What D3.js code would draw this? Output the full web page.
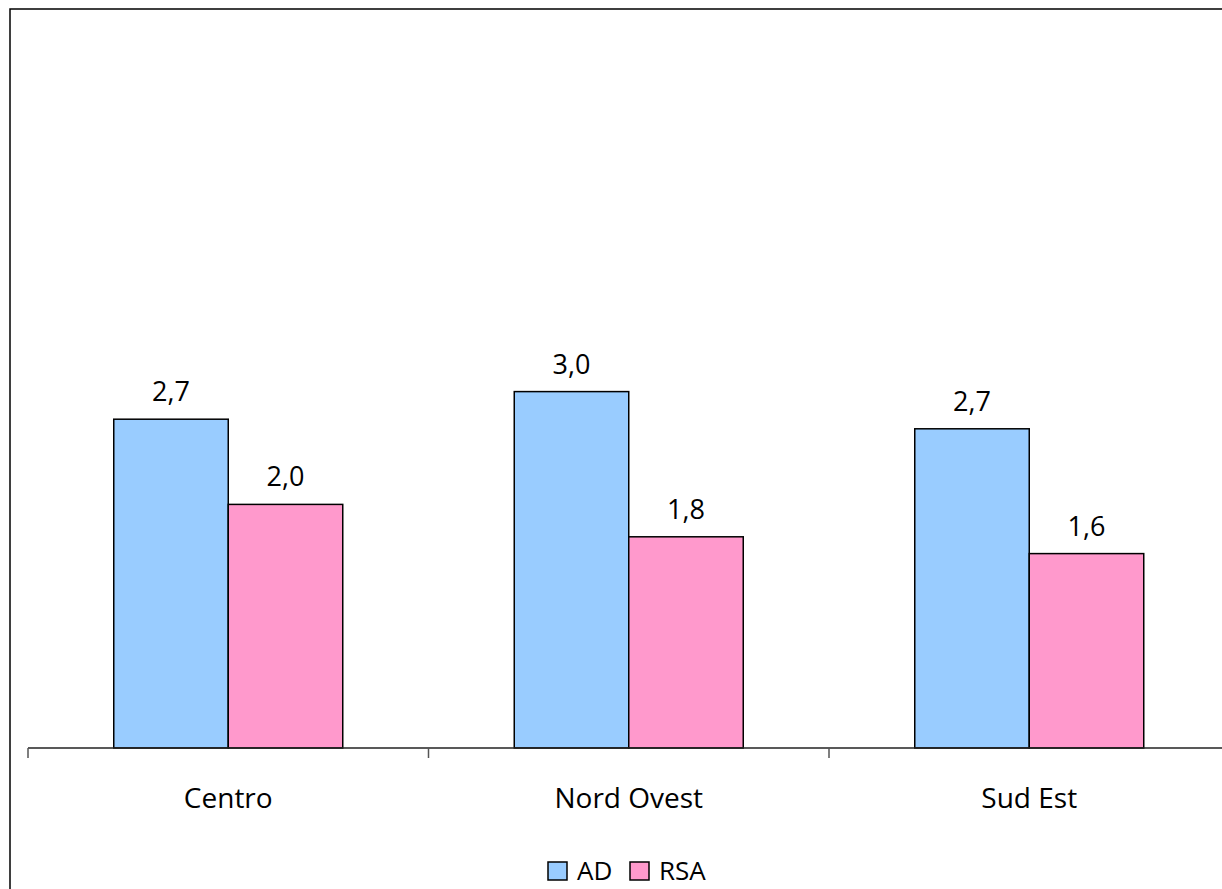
<!DOCTYPE html>
<html>
<head>
<meta charset="utf-8">
<script src="https://cdn.jsdelivr.net/npm/d3@7"></script>
<style>
  html, body { margin: 0; padding: 0; background: #fff; }
  svg { display: block; font-family: "Open Sans", sans-serif; }
</style>
</head>
<body>
<svg id="chart" width="1222" height="889"></svg>
<script>
// Data
const categories = ["Centro", "Nord Ovest", "Sud Est"];
const seriesNames = ["AD", "RSA"];
const adValues = [2.74, 2.97, 2.66];
const rsaValues = [2.03, 1.76, 1.62];
const seriesColors = ["#99CCFF", "#FF99CC"];
const yDomain = [0, 6];

const seriesValues = [adValues, rsaValues];

const svg = d3.select("#chart");

// Outer border (right/bottom edges run off the page)
svg.append("rect")
  .attr("x", 10).attr("y", 9)
  .attr("width", 1400).attr("height", 1000)
  .attr("fill", "none").attr("stroke", "#000").attr("stroke-width", 1.5);

const axisY = 748;
const plotLeft = 28;
const bandW = 400.5;
const x0 = d3.scaleBand().domain(categories).range([plotLeft, plotLeft + bandW * categories.length]).padding(0);
const gap = 85.75;
const x1 = d3.scaleBand().domain(seriesNames).range([gap, x0.bandwidth() - gap]).padding(0);
const y = d3.scaleLinear().domain(yDomain).range([axisY, 28]);

const fmt = v => d3.format(".1f")(v).replace(".", ",");

// Bars
const groups = svg.selectAll("g.cat")
  .data(categories)
  .join("g")
  .attr("class", "cat")
  .attr("transform", c => `translate(${x0(c)},0)`);

seriesNames.forEach((s, si) => {
  groups.append("rect")
    .attr("x", x1(s))
    .attr("y", (c, ci) => y(seriesValues[si][ci]))
    .attr("width", x1.bandwidth())
    .attr("height", (c, ci) => axisY - y(seriesValues[si][ci]))
    .attr("fill", seriesColors[si])
    .attr("stroke", "#000")
    .attr("stroke-width", 1.5);
  groups.append("text")
    .attr("x", x1(s) + x1.bandwidth() / 2)
    .attr("y", (c, ci) => y(seriesValues[si][ci]) - 18)
    .attr("text-anchor", "middle")
    .attr("font-size", 27)
    .attr("fill", "#000")
    .text((c, ci) => fmt(seriesValues[si][ci]));
});

// X axis
svg.append("line")
  .attr("x1", plotLeft).attr("x2", 1222)
  .attr("y1", axisY).attr("y2", axisY)
  .attr("stroke", "#222").attr("stroke-width", 1.5);
const tickPositions = categories.map(c => x0(c)).concat([x0.range()[1]]);
svg.selectAll("line.tick")
  .data(tickPositions)
  .join("line")
  .attr("class", "tick")
  .attr("x1", d => d).attr("x2", d => d)
  .attr("y1", axisY).attr("y2", axisY + 10)
  .attr("stroke", "#555").attr("stroke-width", 1.5);

svg.selectAll("text.catlabel")
  .data(categories)
  .join("text")
  .attr("class", "catlabel")
  .attr("x", c => x0(c) + x0.bandwidth() / 2)
  .attr("y", 808)
  .attr("text-anchor", "middle")
  .attr("font-size", 28)
  .attr("fill", "#000")
  .text(c => c);

// Legend
const legend = svg.append("g").attr("transform", "translate(548,862)");
const legendOffsets = [0, 82];
seriesNames.forEach((s, i) => {
  const g = legend.append("g").attr("transform", `translate(${legendOffsets[i]},0)`);
  g.append("rect")
    .attr("x", 0).attr("y", 0).attr("width", 19).attr("height", 18)
    .attr("fill", seriesColors[i]).attr("stroke", "#000").attr("stroke-width", 1.5);
  g.append("text")
    .attr("x", 29).attr("y", 18)
    .attr("font-size", 26)
    .attr("fill", "#000")
    .text(s);
});
</script>
</body>
</html>
